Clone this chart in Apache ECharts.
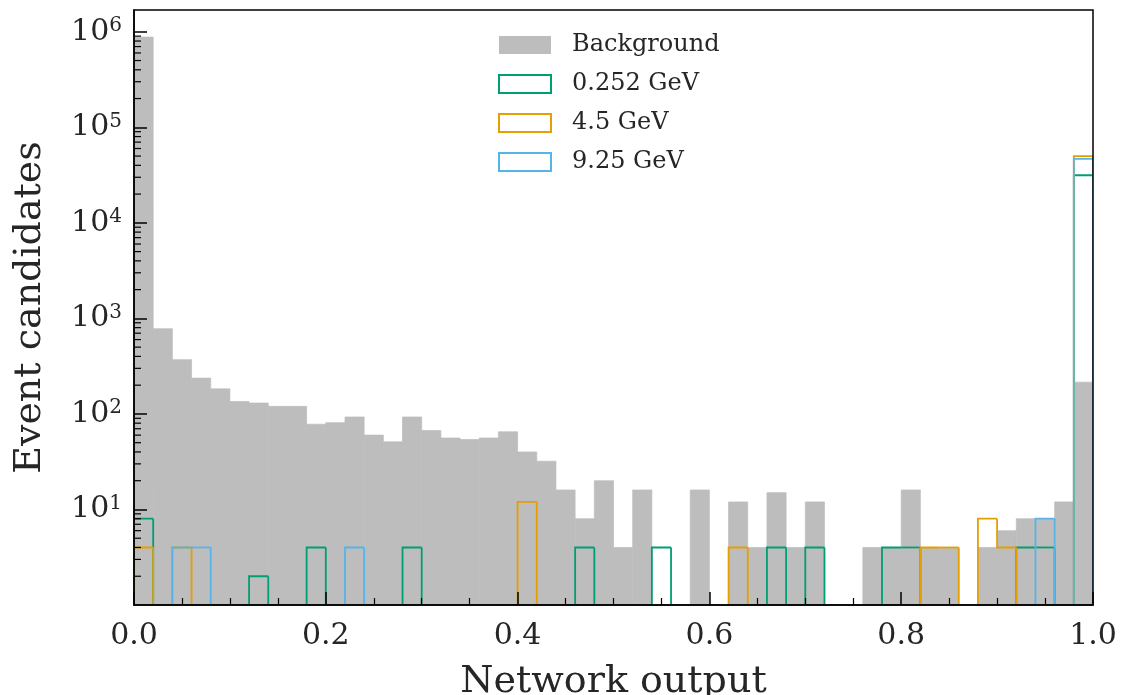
<!DOCTYPE html>
<html>
<head>
<meta charset="utf-8">
<script src="https://cdn.jsdelivr.net/npm/echarts@6/dist/echarts.min.js"></script>
<style>
  html, body { margin: 0; padding: 0; background: #fff; }
  #chart { width: 1122px; height: 695px; }
</style>
</head>
<body>
<div id="chart"></div>
<script>
// ---- data ----
const binEdges = [0.00, 0.02, 0.04, 0.06, 0.08, 0.10, 0.12, 0.14, 0.16, 0.18,
                  0.20, 0.22, 0.24, 0.26, 0.28, 0.30, 0.32, 0.34, 0.36, 0.38,
                  0.40, 0.42, 0.44, 0.46, 0.48, 0.50, 0.52, 0.54, 0.56, 0.58,
                  0.60, 0.62, 0.64, 0.66, 0.68, 0.70, 0.72, 0.74, 0.76, 0.78,
                  0.80, 0.82, 0.84, 0.86, 0.88, 0.90, 0.92, 0.94, 0.96, 0.98, 1.00];

const background = [880000, 780, 370, 237, 183, 135, 130, 120, 120, 78,
                    81, 93, 60, 51, 93, 67, 56, 54, 56, 65,
                    40, 32, 16, 8, 20, 4, 16, 0, 0, 16,
                    0, 12, 4, 15, 4, 12, 0, 0, 4, 4,
                    16, 4, 4, 0, 4, 6, 8, 8, 12, 215];

const sig0252 = [8, 0, 0, 0, 0, 0, 2, 0, 0, 4,
                 0, 0, 0, 0, 4, 0, 0, 0, 0, 0,
                 0, 0, 0, 4, 0, 0, 0, 4, 0, 0,
                 0, 0, 0, 4, 0, 4, 0, 0, 0, 4,
                 4, 0, 0, 0, 0, 0, 4, 4, 0, 31500];

const sig45 = [4, 0, 4, 0, 0, 0, 0, 0, 0, 0,
               0, 0, 0, 0, 0, 0, 0, 0, 0, 0,
               12, 0, 0, 0, 0, 0, 0, 0, 0, 0,
               0, 4, 0, 0, 0, 0, 0, 0, 0, 0,
               0, 4, 4, 0, 8, 4, 0, 0, 0, 50000];

const sig925 = [0, 0, 4, 4, 0, 0, 0, 0, 0, 0,
                0, 4, 0, 0, 0, 0, 0, 0, 0, 0,
                0, 0, 0, 0, 0, 0, 0, 0, 0, 0,
                0, 0, 0, 0, 0, 0, 0, 0, 0, 0,
                0, 0, 0, 0, 0, 0, 0, 8, 0, 46800];

const seriesNames = ['Background', '0.252 GeV', '4.5 GeV', '9.25 GeV'];
const xTickLabels = ['0.0', '0.2', '0.4', '0.6', '0.8', '1.0'];
const yMin = 1, yMax = 1.69e6;

// ---- style ----
const FONT = "'DejaVu Serif', serif";
const TXT = '#262626';
const BG_COLOR = '#bdbdbd';
const SIG_COLORS = ['#009E73', '#E69F00', '#56B4E9'];

const chart = echarts.init(document.getElementById('chart'), null, { renderer: 'canvas' });

function bgData() {
  return background.map((v, i) => [binEdges[i], binEdges[i + 1], v]);
}
function stepData(arr) {
  return arr.map((v, i) => [binEdges[i], binEdges[i + 1], v, i > 0 ? arr[i - 1] : 0, i === arr.length - 1 ? 1 : 0]);
}

function renderBar(params, api) {
  const v = api.value(2);
  if (!(v > 0)) return null;
  const p0 = api.coord([api.value(0), v]);
  const p1 = api.coord([api.value(1), yMin]);
  return {
    type: 'rect',
    shape: { x: p0[0], y: p0[1], width: p1[0] - p0[0], height: p1[1] - p0[1] },
    style: { fill: BG_COLOR, stroke: BG_COLOR, lineWidth: 0.7 }
  };
}

function makeStepRenderer(color) {
  return function (params, api) {
    const x0 = api.value(0), x1 = api.value(1);
    const v = api.value(2), vp = api.value(3), last = api.value(4);
    const lv = v > 0 ? v : yMin;
    const lp = vp > 0 ? vp : yMin;
    let pts = [];
    if (v > 0) {
      pts = [api.coord([x0, lp]), api.coord([x0, lv]), api.coord([x1, lv])];
      if (last) pts.push(api.coord([x1, yMin]));
    } else if (vp > 0) {
      pts = [api.coord([x0, lp]), api.coord([x0, yMin])];
    } else {
      return null;
    }
    return {
      type: 'polyline',
      shape: { points: pts },
      style: { stroke: color, fill: null, lineWidth: 1.8 }
    };
  };
}

const sigArrays = [sig0252, sig45, sig925];

const option = {
  animation: false,
  backgroundColor: '#fff',
  grid: {
    left: 134, right: 29, top: 10, bottom: 90, z: 20,
    containLabel: false, outerBoundsMode: 'none',
    show: true, borderColor: '#000', borderWidth: 1.5, backgroundColor: 'transparent'
  },
  legend: {
    orient: 'vertical',
    left: 493, top: 28,
    itemWidth: 52, itemHeight: 18, itemGap: 15,
    textStyle: { fontFamily: FONT, fontSize: 24, color: TXT, padding: [0, 0, 0, 16] },
    data: [
      { name: seriesNames[0], icon: 'rect', itemStyle: { color: BG_COLOR, borderWidth: 0 } },
      { name: seriesNames[1], icon: 'rect', itemStyle: { color: '#fff', borderColor: SIG_COLORS[0], borderWidth: 2 } },
      { name: seriesNames[2], icon: 'rect', itemStyle: { color: '#fff', borderColor: SIG_COLORS[1], borderWidth: 2 } },
      { name: seriesNames[3], icon: 'rect', itemStyle: { color: '#fff', borderColor: SIG_COLORS[2], borderWidth: 2 } }
    ]
  },
  xAxis: {
    type: 'value', min: 0, max: 1, interval: 0.2, z: 20,
    name: 'Network output', nameLocation: 'middle', nameGap: 58,
    nameTextStyle: { fontFamily: FONT, fontSize: 38, color: TXT },
    axisLine: { show: true, lineStyle: { color: '#000', width: 1.5 } },
    axisTick: { show: true, inside: true, length: 13, lineStyle: { color: '#000', width: 1.5 } },
    minorTick: { show: true, splitNumber: 4, length: 7, lineStyle: { color: '#000', width: 1.2 } },
    splitLine: { show: false },
    axisLabel: {
      margin: 16, fontFamily: FONT, fontSize: 30, color: TXT,
      formatter: v => xTickLabels[Math.round(v / 0.2)]
    }
  },
  yAxis: {
    type: 'log', logBase: 10, min: yMin, max: yMax, z: 20,
    name: 'Event candidates', nameLocation: 'middle', nameGap: 85, nameRotate: 90,
    nameTextStyle: { fontFamily: FONT, fontSize: 38, color: TXT },
    axisLine: { show: true, lineStyle: { color: '#000', width: 1.5 } },
    axisTick: { show: true, inside: true, length: 13, lineStyle: { color: '#000', width: 1.5 } },
    minorTick: { show: false },
    splitLine: { show: false },
    axisLabel: {
      margin: 12, showMinLabel: false, showMaxLabel: false,
      formatter: v => '{b|10}{s|' + Math.round(Math.log10(v)) + '}',
      rich: {
        b: { fontFamily: FONT, fontSize: 30, color: TXT, lineHeight: 32 },
        s: { fontFamily: FONT, fontSize: 20, color: TXT, verticalAlign: 'top', lineHeight: 20 }
      }
    }
  },
  series: [
    {
      name: seriesNames[0], type: 'custom', renderItem: renderBar,
      encode: { x: [0, 1], y: 2 }, data: bgData(), clip: true,
      itemStyle: { color: BG_COLOR }, z: 1
    }
  ].concat(sigArrays.map((arr, k) => ({
    name: seriesNames[k + 1], type: 'custom', renderItem: makeStepRenderer(SIG_COLORS[k]),
    encode: { x: [0, 1], y: 2 }, data: stepData(arr), clip: true,
    itemStyle: { color: SIG_COLORS[k] }, z: 2 + k
  })))
};

chart.setOption(option);

// minor log ticks (2..9 x 10^k) placed through the y axis scale
const minorGraphics = [];
const x0px = chart.convertToPixel({ xAxisIndex: 0 }, 0);
for (let k = 0; k <= 6; k++) {
  for (let m = 2; m <= 9; m++) {
    const val = m * Math.pow(10, k);
    if (val >= yMax) continue;
    const py = chart.convertToPixel({ yAxisIndex: 0 }, val);
    minorGraphics.push({
      type: 'line', silent: true, z: 30,
      shape: { x1: x0px, y1: py, x2: x0px + 7, y2: py },
      style: { stroke: '#000', lineWidth: 1.2 }
    });
  }
}
chart.setOption({ graphic: minorGraphics });
</script>
</body>
</html>
